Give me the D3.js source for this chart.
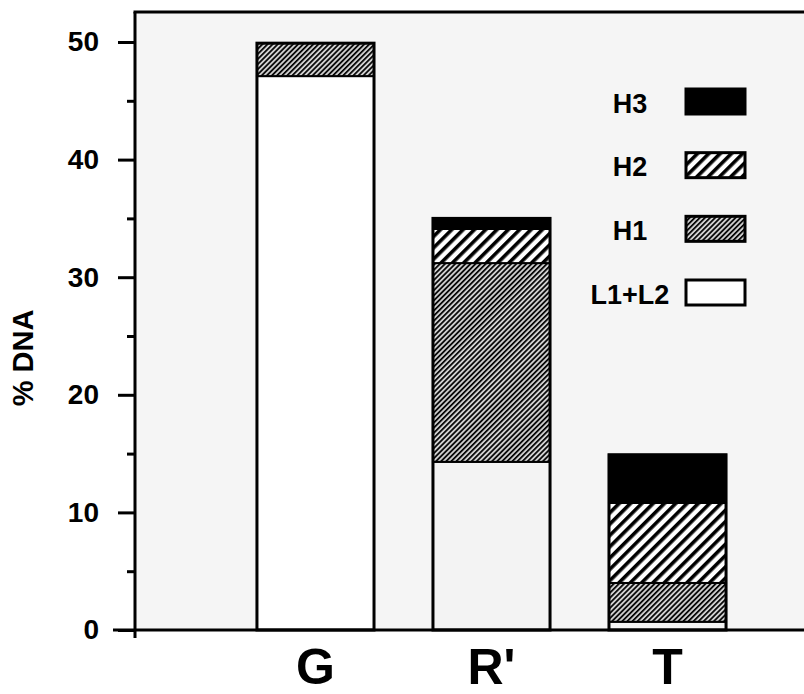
<!DOCTYPE html>
<html>
<head>
<meta charset="utf-8">
<script src="https://cdn.jsdelivr.net/npm/d3@7"></script>
<style>
  body { margin: 0; background: #fff; }
  text { font-family: "Liberation Sans", Arial, sans-serif; font-weight: bold; fill: #000; }
</style>
</head>
<body>
<svg id="chart" width="804" height="694"></svg>
<script>
// valeurs (% DNA)
const categories = ['G', "R'", 'T']
const fractions = ['L1+L2', 'H1', 'H2', 'H3']
const l1l2 = [47.1, 14.3, 0.7]
const h1 = [2.8, 16.9, 3.3]
const h2 = [0, 2.9, 6.8]
const h3 = [0, 0.9, 4.1]
const yTicks = [0, 10, 20, 30, 40, 50]
const yMinorTicks = [5, 15, 25, 35, 45]
const legendOrder = ['H3', 'H2', 'H1', 'L1+L2']

const svg = d3.select('#chart')
const W = 804
const plot = { left: 135, top: 12, bottom: 630 }

const rows = categories.map((c, i) => ({ cat: c, 'L1+L2': l1l2[i], H1: h1[i], H2: h2[i], H3: h3[i] }))
const series = d3.stack().keys(fractions)(rows)

const y = d3.scaleLinear().domain([0, 50]).range([630, 42])
const x = d3.scaleBand().domain(categories).range([198, 785]).paddingInner(0.335).paddingOuter(0.335)

// motifs hachurés
const defs = svg.append('defs')
function hatch (id, size, lineW, bg) {
  const p = defs.append('pattern')
    .attr('id', id)
    .attr('patternUnits', 'userSpaceOnUse')
    .attr('width', size).attr('height', size)
    .attr('patternTransform', 'rotate(45)')
  p.append('rect').attr('width', size).attr('height', size).attr('fill', bg)
  p.append('rect').attr('width', lineW).attr('height', size).attr('fill', '#000')
}
hatch('hatch-h1', 3.6, 1.7, '#cfcfcf')
hatch('hatch-h2', 8, 3.6, '#fff')

const fill = { 'L1+L2': '#fff', H1: 'url(#hatch-h1)', H2: 'url(#hatch-h2)', H3: '#000' }

// fond de la zone graphique
svg.append('rect')
  .attr('x', plot.left).attr('y', plot.top)
  .attr('width', W - plot.left).attr('height', plot.bottom - plot.top)
  .attr('fill', '#f5f5f5')

// barres empilées
const g = svg.append('g').attr('class', 'bars-g')
series.forEach(s => {
  g.selectAll(null)
    .data(s.filter(d => d[1] - d[0] > 0))
    .join('rect')
    .attr('x', d => x(d.data.cat))
    .attr('width', x.bandwidth())
    .attr('y', d => y(d[1]))
    .attr('height', d => y(d[0]) - y(d[1]))
    .attr('fill', d => (s.key === 'L1+L2' && d.data.cat !== 'G') ? '#f3f3f3' : fill[s.key])
    .attr('stroke', '#000')
    .attr('stroke-width', 2)
})
g.selectAll(null)
  .data(series[series.length - 1])
  .join('rect')
  .attr('x', d => x(d.data.cat))
  .attr('width', x.bandwidth())
  .attr('y', d => y(d[1]))
  .attr('height', d => y(0) - y(d[1]))
  .attr('fill', 'none')
  .attr('stroke', '#000')
  .attr('stroke-width', 3)

// cadre et axes
svg.append('line')
  .attr('x1', plot.left - 1.5).attr('x2', W).attr('y1', plot.top).attr('y2', plot.top)
  .attr('stroke', '#000').attr('stroke-width', 3)
svg.append('line')
  .attr('x1', 113).attr('x2', W).attr('y1', y(0)).attr('y2', y(0))
  .attr('stroke', '#000').attr('stroke-width', 3)
svg.append('line')
  .attr('x1', plot.left).attr('x2', plot.left).attr('y1', plot.top).attr('y2', y(0) + 8)
  .attr('stroke', '#000').attr('stroke-width', 3)

const yAxis = svg.append('g')
  .attr('transform', 'translate(' + plot.left + ',0)')
  .call(d3.axisLeft(y).tickValues(yTicks).tickSize(17).tickPadding(19).tickFormat(d3.format('d')))
yAxis.select('.domain').remove()
yAxis.selectAll('line').attr('stroke-width', 3)
yAxis.selectAll('text').attr('font-size', 28).style('font-family', '"Liberation Sans", Arial, sans-serif')

const yMinor = svg.append('g')
  .attr('transform', 'translate(' + plot.left + ',0)')
  .call(d3.axisLeft(y).tickValues(yMinorTicks).tickSize(8).tickFormat(''))
yMinor.select('.domain').remove()
yMinor.selectAll('line').attr('stroke-width', 3)

// étiquettes des colonnes (taille réduite pour rester dans le cadre)
const xAxis = svg.append('g')
  .attr('transform', 'translate(0,' + y(0) + ')')
  .call(d3.axisBottom(x).tickSize(0).tickPadding(18))
xAxis.select('.domain').remove()
xAxis.selectAll('text')
  .attr('font-size', 50)
  .attr('dy', '0.72em')
  .style('font-family', '"Liberation Sans", Arial, sans-serif')

// titre de l'axe
svg.append('text')
  .attr('transform', 'translate(33,358) rotate(-90)')
  .attr('text-anchor', 'middle')
  .attr('font-size', 29)
  .text('% DNA')

// légende
const ly = d3.scalePoint().domain(legendOrder).range([101, 292])
const leg = svg.append('g').attr('class', 'legend-g')
leg.selectAll('text')
  .data(legendOrder)
  .join('text')
  .attr('x', 630)
  .attr('y', d => ly(d) + 2)
  .attr('dy', '0.36em')
  .attr('text-anchor', 'middle')
  .attr('font-size', 27)
  .text(d => d)
leg.selectAll('rect')
  .data(legendOrder)
  .join('rect')
  .attr('x', 686)
  .attr('y', d => ly(d) - 12)
  .attr('width', 59)
  .attr('height', 25)
  .attr('fill', d => fill[d])
  .attr('stroke', '#000')
  .attr('stroke-width', 3)
</script>
</body>
</html>
